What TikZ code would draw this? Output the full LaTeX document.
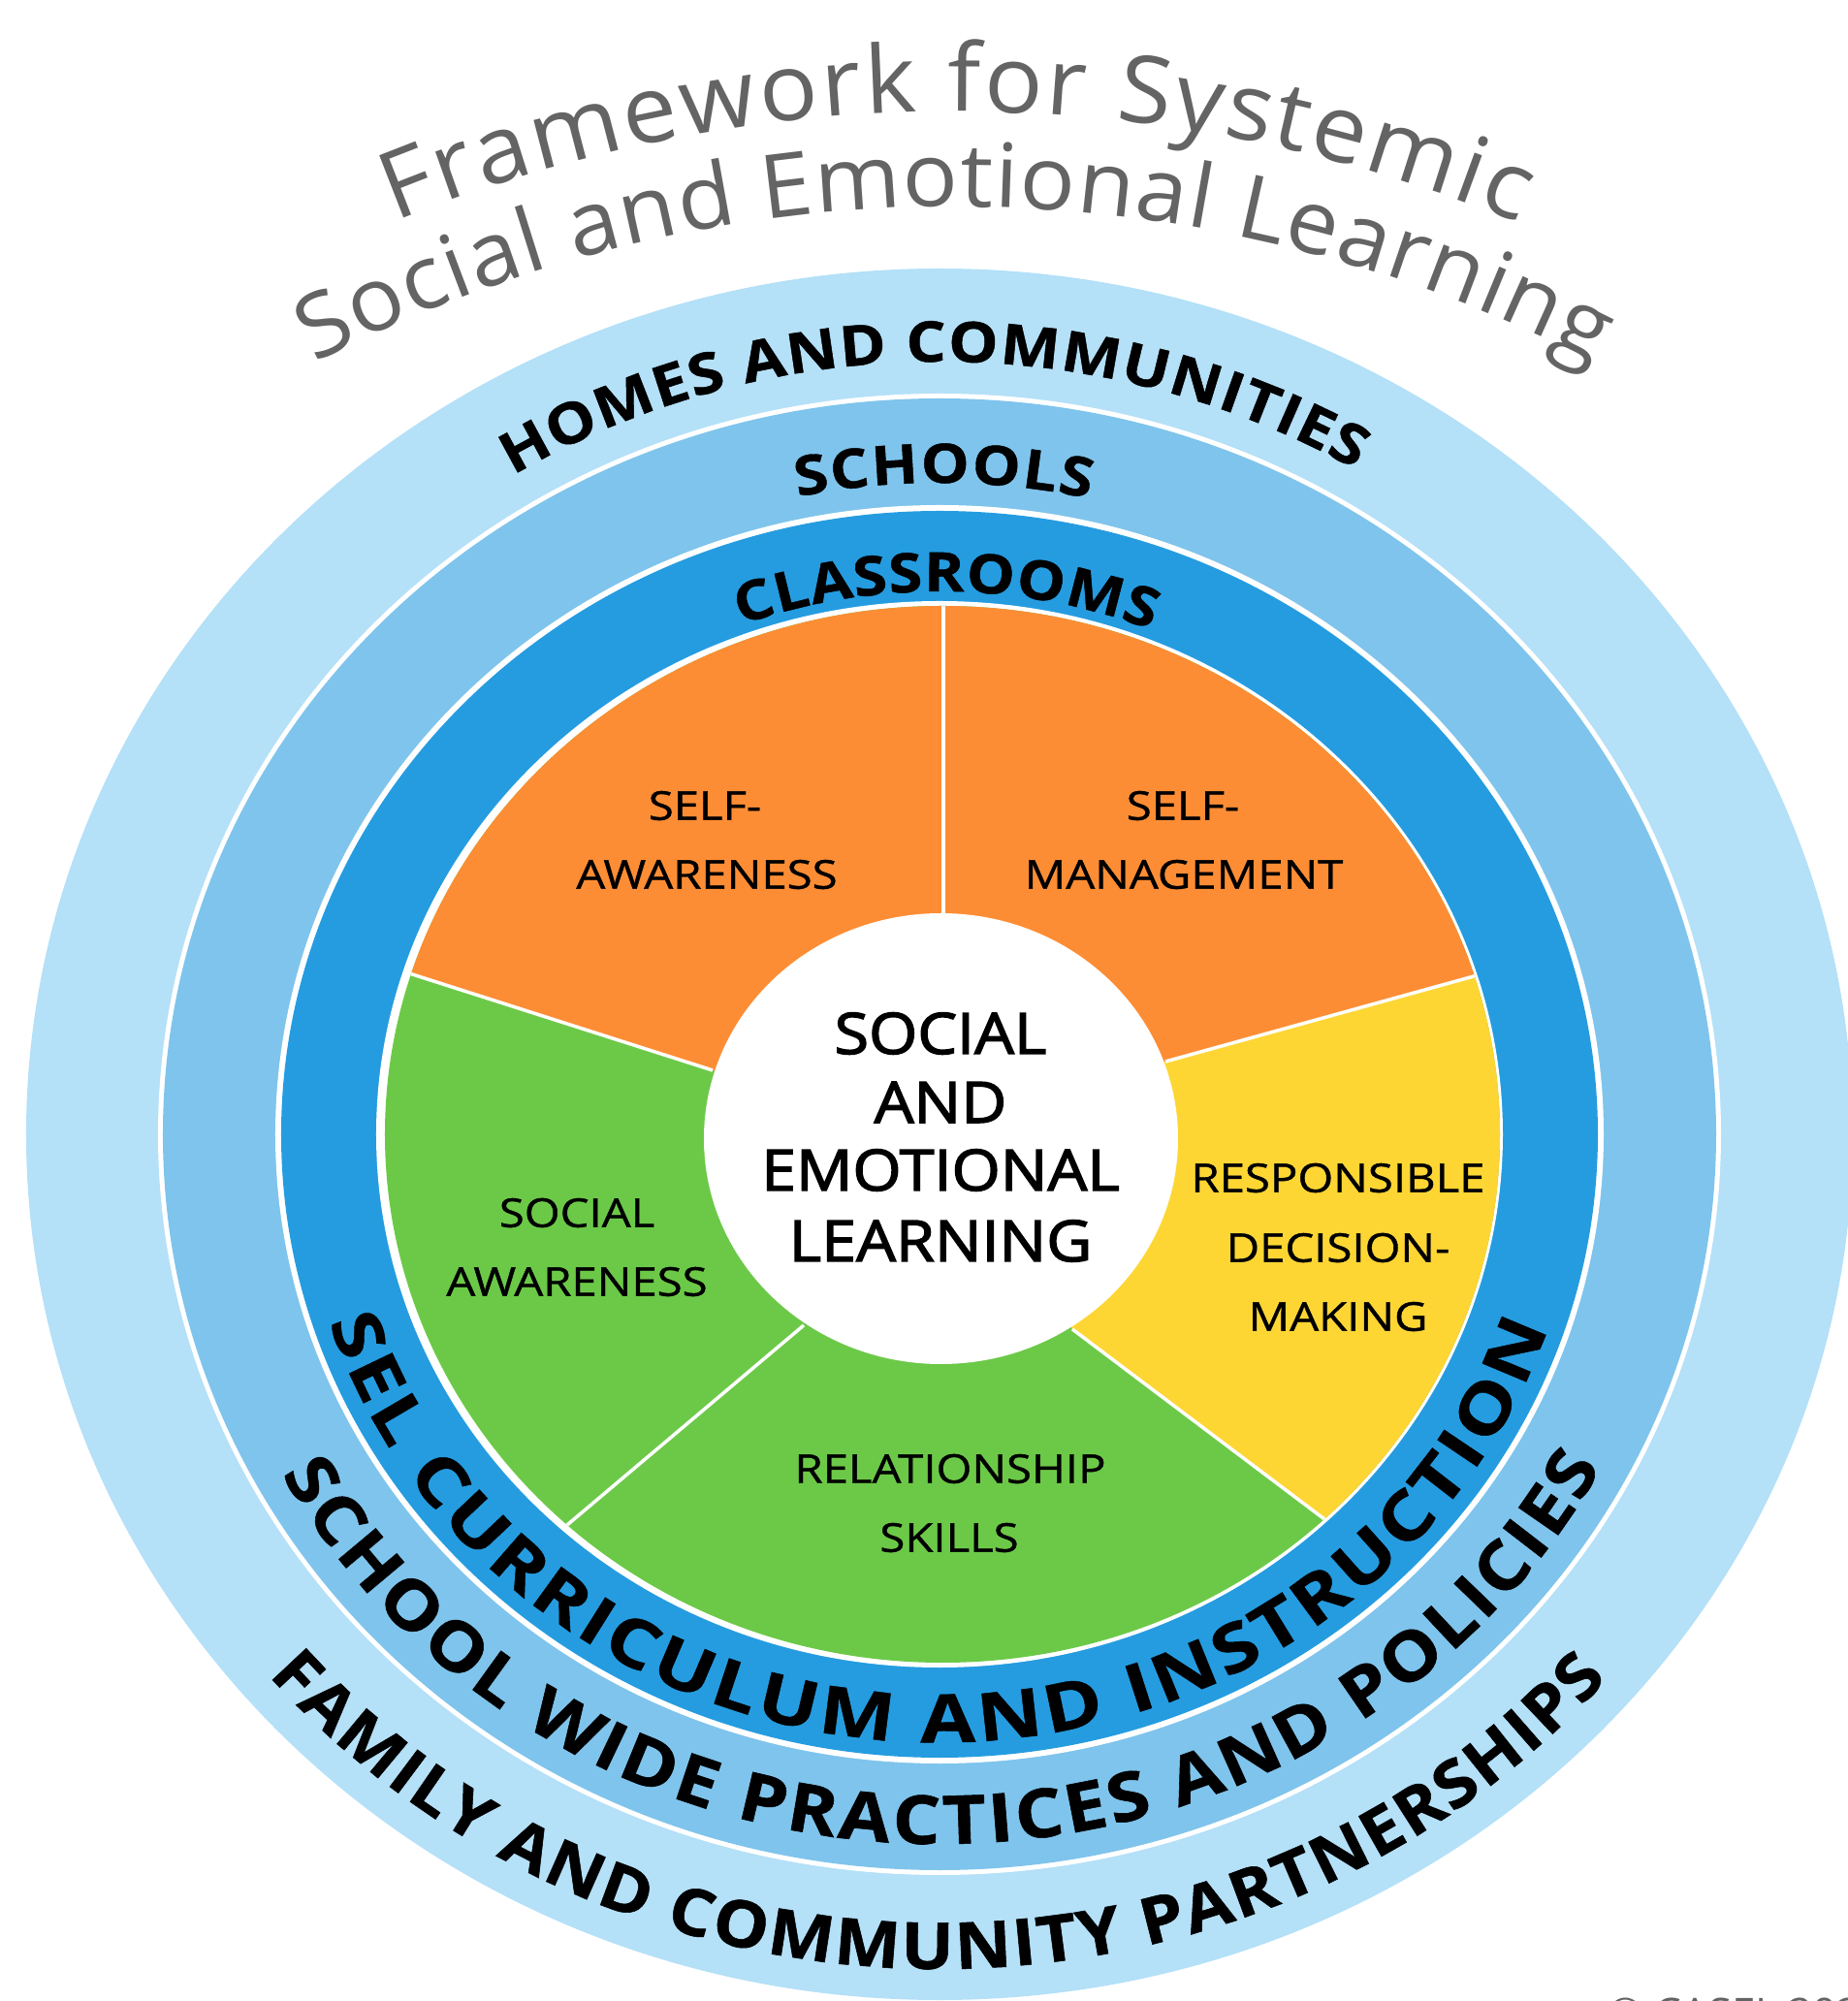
\documentclass[tikz,border=0pt]{standalone}
\usepackage{fontspec}
\setmainfont{Open Sans}
\newfontfamily\ringfont[FakeStretch=1.12,FakeBold=0.8]{Open Sans}
\newfontfamily\ringwide[FakeStretch=1.2,FakeBold=0.6]{Open Sans}
\newfontfamily\ringnarrow[FakeStretch=1.08,FakeBold=0.8]{Open Sans}
\newfontfamily\labfont[FakeStretch=1.15,FakeBold=1.0]{Open Sans}
\newfontfamily\cenfont[FakeStretch=1.1,FakeBold=2.5]{Open Sans}
\newfontfamily\titfont[FakeStretch=1.04]{Open Sans}
\usetikzlibrary{decorations.text,calc}
\definecolor{ringA}{RGB}{180,224,248}
\definecolor{ringB}{RGB}{127,196,236}
\definecolor{ringC}{RGB}{37,156,224}
\definecolor{slOrange}{RGB}{253,141,52}
\definecolor{slGreen}{RGB}{108,201,72}
\definecolor{slYellow}{RGB}{253,214,52}
\definecolor{titgray}{RGB}{100,100,100}
\newcommand\ringHomes{\ringfont\bfseries\fontsize{16.5pt}{19pt}\selectfont}
\newcommand\ringSchools{\ringfont\bfseries\fontsize{16pt}{19pt}\selectfont}
\newcommand\ringClass{\ringfont\bfseries\fontsize{16pt}{19pt}\selectfont}
\newcommand\ringSel{\ringwide\bfseries\fontsize{19.6pt}{23pt}\selectfont}
\newcommand\ringSwp{\ringfont\bfseries\fontsize{19.8pt}{23pt}\selectfont}
\newcommand\ringFam{\ringnarrow\bfseries\fontsize{19pt}{23pt}\selectfont}
\newcommand\labsize{\labfont\fontsize{11.7pt}{14pt}\selectfont}
\newcommand\censize{\cenfont\fontsize{16.7pt}{20pt}\selectfont}
\newcommand\titsizeA{\titfont\fontsize{27.5pt}{31pt}\selectfont}
\newcommand\titsizeB{\titfont\fontsize{26pt}{30pt}\selectfont}
\begin{document}
\begin{tikzpicture}[
  lab/.style={font=\labsize, text=black, inner sep=0pt, anchor=center},
  cen/.style={font=\censize, text=black, inner sep=0pt, anchor=center},
  sep/.style={draw=white, line width=0.035cm},
  ringtext/.style={decorate, decoration={text along path, text align={fit to path}, text color=black, text={#1}}},
  tittext/.style={decorate, decoration={text along path, text align={fit to path}, text color=titgray, text={#1}}}
]
\useasboundingbox (-9.69,-8.94) rectangle (9.37,11.70);
% rings
\fill[ringA] (0,0) ellipse [x radius=9.42, y radius=8.93];
\fill[white] (0,0) ellipse [x radius=8.06, y radius=7.64];
\fill[ringB] (0,0) ellipse [x radius=8.01, y radius=7.59];
\fill[white] (0,0) ellipse [x radius=6.85, y radius=6.49];
\fill[ringC] (0,0) ellipse [x radius=6.79, y radius=6.43];
\fill[white] (0,0) ellipse [x radius=5.81, y radius=5.50];
% slice boundary points
\coordinate (i1) at (0.04,2.0);   \coordinate (o1) at (0.04,5.6);
\coordinate (i2) at (2.33,0.75);  \coordinate (o2) at (5.51,1.63);
\coordinate (i3) at (1.37,-2.01); \coordinate (o3) at (3.97,-3.97);
\coordinate (i4) at (-1.40,-1.97);\coordinate (o4) at (-3.90,-4.08);
\coordinate (i5) at (-2.34,0.66); \coordinate (o5) at (-5.50,1.67);
\begin{scope}
  \clip (0.03,0) ellipse [x radius=5.75, y radius=5.45];
  \fill[slGreen] (-7,-7) rectangle (7,7);
  \fill[slOrange] (0,0) -- (i5) -- ($(i5)!3!(o5)$) -- (-12,12) -- (12,12) -- ($(i2)!3!(o2)$) -- (i2) -- cycle;
  \fill[slYellow] (0,0) -- (i2) -- ($(i2)!3!(o2)$) -- (12,-8) -- ($(i3)!3!(o3)$) -- (i3) -- cycle;
  \draw[sep] (i1) -- ($(i1)!1.5!(o1)$);
  \draw[sep] (i2) -- ($(i2)!1.5!(o2)$);
  \draw[sep] (i3) -- ($(i3)!1.5!(o3)$);
  \draw[sep] (i4) -- ($(i4)!1.5!(o4)$);
  \draw[sep] (i5) -- ($(i5)!1.5!(o5)$);
\end{scope}
\fill[white] (0.015,-0.045) ellipse [x radius=2.445, y radius=2.325];
% competency labels
\node[lab] (saA) at (-2.42,3.39) {SELF-};
\node[lab] (saB) at (-2.40,2.68) {AWARENESS};
\node[lab] (smA) at (2.51,3.39) {SELF-};
\node[lab] (smB) at (2.52,2.68) {MANAGEMENT};
\node[lab] (soA) at (-3.74,-0.81) {SOCIAL};
\node[lab] (soB) at (-3.74,-1.52) {AWARENESS};
\node[lab] (rdA) at (4.11,-0.45) {RESPONSIBLE};
\node[lab] (rdB) at (4.11,-1.17) {DECISION-};
\node[lab] (rdC) at (4.11,-1.88) {MAKING};
\node[lab] (rsA) at (0.11,-3.45) {RELATIONSHIP};
\node[lab] (rsB) at (0.10,-4.16) {SKILLS};
% centre
\node[cen] (c1) at (0.01,1.04) {SOCIAL};
\node[cen] (c2) at (0.01,0.33) {AND};
\node[cen] (c3) at (0.01,-0.37) {EMOTIONAL};
\node[cen] (c4) at (0.01,-1.10) {LEARNING};
% ring texts (top)
\path[ringtext={|\ringHomes|HOMES AND COMMUNITIES}] (121.5:8.42 and 7.97) arc[start angle=121.5, end angle=59.4, x radius=8.42, y radius=7.97];
\path[ringtext={|\ringSchools|SCHOOLS}] (101.9:7.10 and 6.72) arc[start angle=101.9, end angle=77.4, x radius=7.10, y radius=6.72];
\path[ringtext={|\ringClass|CLASSROOMS}] (110.3:5.91 and 5.60) arc[start angle=110.3, end angle=68.3, x radius=5.91, y radius=5.60];
% ring texts (bottom)
\path[ringtext={|\ringSel|SEL CURRICULUM AND INSTRUCTION}] (198:6.62 and 6.27) arc[start angle=198, end angle=341.4, x radius=6.62, y radius=6.27];
\path[ringtext={|\ringSwp|SCHOOL WIDE PRACTICES AND POLICIES}] (208.6:7.73 and 7.32) arc[start angle=208.6, end angle=332, x radius=7.73, y radius=7.32];
\path[ringtext={|\ringFam|FAMILY AND COMMUNITY PARTNERSHIPS}] (220.4:9.09 and 8.61) arc[start angle=220.4, end angle=319.3, x radius=9.09, y radius=8.61];
% title
\begin{scope}[shift={(0.16,-4.70)}]
  \path[tittext={|\titsizeA|Framework for Systemic}] (112.25:15.25) arc[start angle=112.25, end angle=67.6, radius=15.25];
  \path[tittext={|\titsizeB|Social and Emotional Learning}] (117.55:14.27) arc[start angle=117.55, end angle=62.5, radius=14.27];
\end{scope}
\node[anchor=base west, font=\titfont\fontsize{12pt}{14pt}\selectfont, text=titgray, inner sep=0pt] (copy) at (6.89,-9.21) {© CASEL 2020};
\end{tikzpicture}
\end{document}
